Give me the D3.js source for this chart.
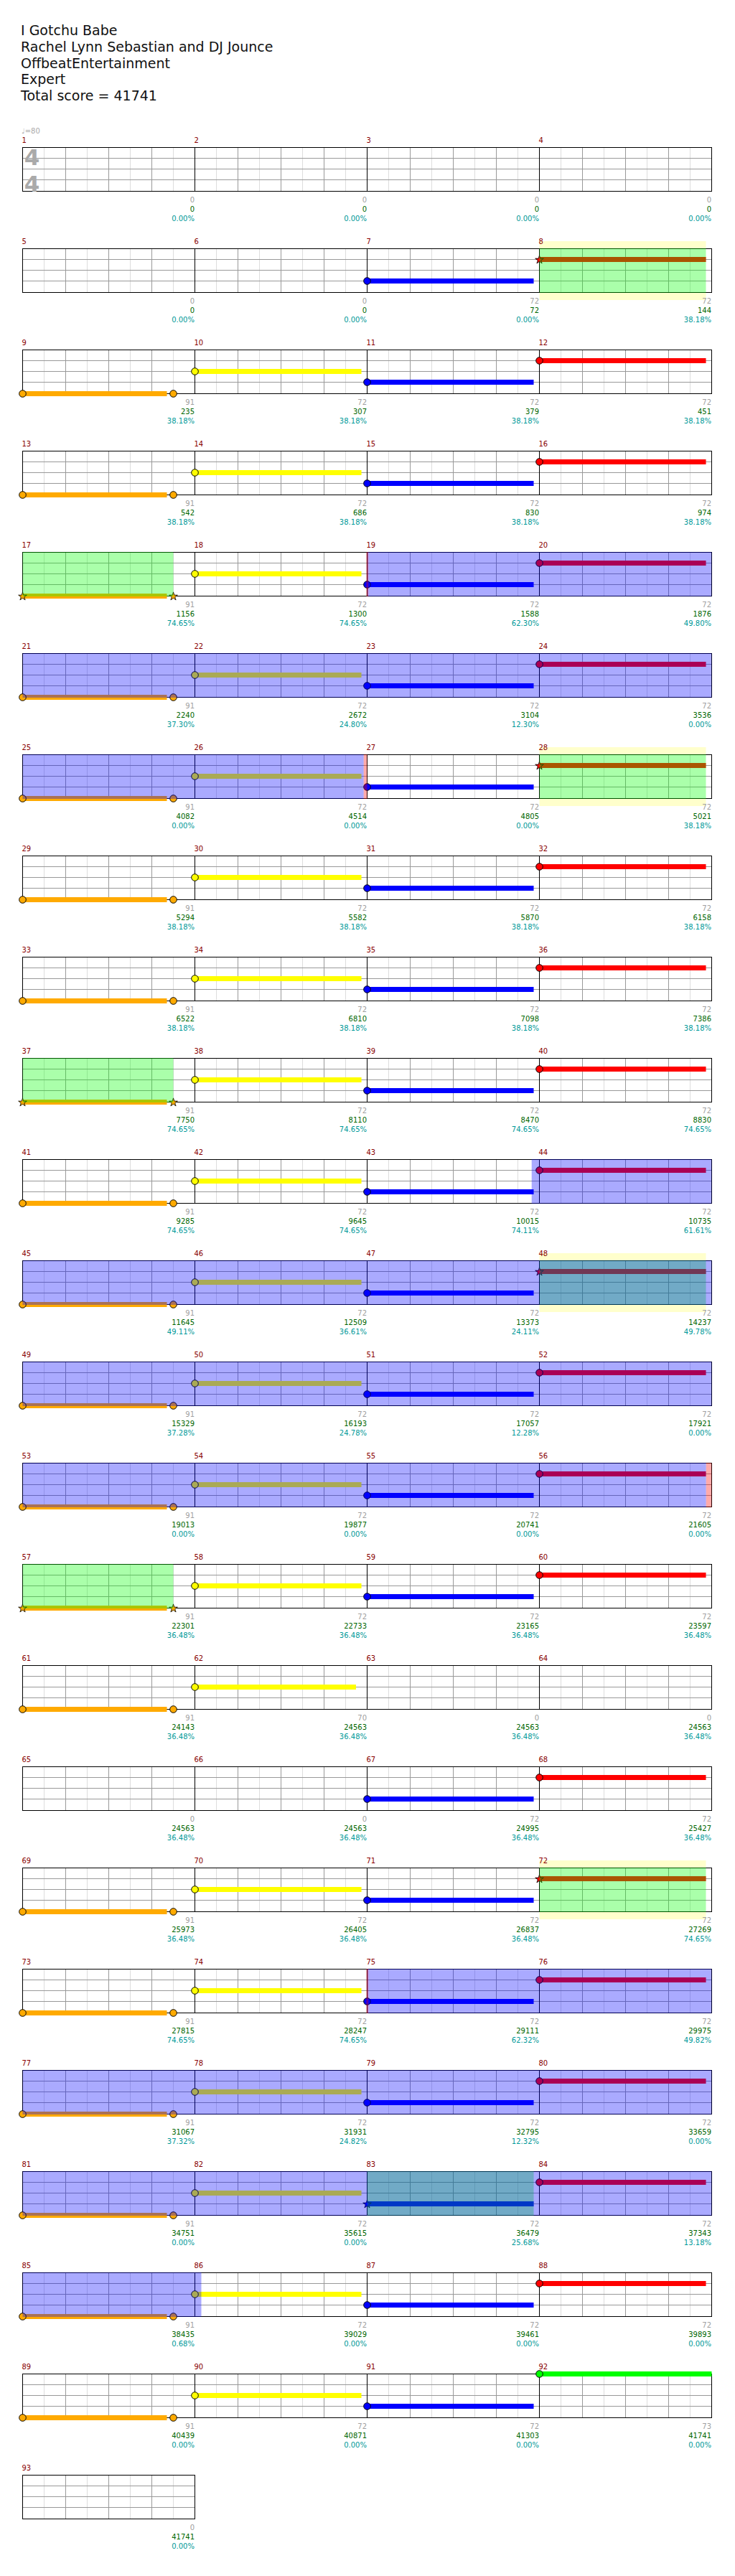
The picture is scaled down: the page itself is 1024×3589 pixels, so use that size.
<!DOCTYPE html>
<html><head><meta charset="utf-8">
<script src="https://cdn.jsdelivr.net/npm/d3@7"></script>
<style>
body{margin:0;background:#fff}
svg{display:block}
text{font-family:"DejaVu Sans",sans-serif}
</style>
</head><body><div id="chart"></div>
<script>
// ---------- data ----------
const headerLines = ["I Gotchu Babe", "Rachel Lynn Sebastian and DJ Jounce", "OffbeatEntertainment", "Expert", "Total score = 41741"];
const tempoLabel = "\u2669=80";
const timeSignature = ["4", "4"];
const beatsPerMeasure = 4;
const measuresPerRow = 4;

// gray number under each measure (base points of the measure)
const measureBase = [
  0,0,0,0, 0,0,72,72, 91,72,72,72, 91,72,72,72, 91,72,72,72, 91,72,72,72,
  91,72,72,72, 91,72,72,72, 91,72,72,72, 91,72,72,72, 91,72,72,72, 91,72,72,72,
  91,72,72,72, 91,72,72,72, 91,72,72,72, 91,70,0,0, 0,0,72,72, 91,72,72,72,
  91,72,72,72, 91,72,72,72, 91,72,72,72, 91,72,72,72, 91,72,72,73, 0
];
// green number: running score
const runningScore = [
  0,0,0,0, 0,0,72,144, 235,307,379,451, 542,686,830,974, 1156,1300,1588,1876,
  2240,2672,3104,3536, 4082,4514,4805,5021, 5294,5582,5870,6158, 6522,6810,7098,7386,
  7750,8110,8470,8830, 9285,9645,10015,10735, 11645,12509,13373,14237,
  15329,16193,17057,17921, 19013,19877,20741,21605, 22301,22733,23165,23597,
  24143,24563,24563,24563, 24563,24563,24995,25427, 25973,26405,26837,27269,
  27815,28247,29111,29975, 31067,31931,32795,33659, 34751,35615,36479,37343,
  38435,39029,39461,39893, 40439,40871,41303,41741, 41741
];
// teal number: star power meter (%)
const starMeter = [
  0,0,0,0, 0,0,0,38.18, 38.18,38.18,38.18,38.18, 38.18,38.18,38.18,38.18,
  74.65,74.65,62.30,49.80, 37.30,24.80,12.30,0, 0,0,0,38.18, 38.18,38.18,38.18,38.18,
  38.18,38.18,38.18,38.18, 74.65,74.65,74.65,74.65, 74.65,74.65,74.11,61.61,
  49.11,36.61,24.11,49.78, 37.28,24.78,12.28,0, 0,0,0,0, 36.48,36.48,36.48,36.48,
  36.48,36.48,36.48,36.48, 36.48,36.48,36.48,36.48, 36.48,36.48,36.48,74.65,
  74.65,74.65,62.32,49.82, 37.32,24.82,12.32,0, 0,0,25.68,13.18,
  0.68,0,0,0, 0,0,0,0, 0
];

const lanes = ["G","R","Y","B","O"];
const laneColors = ["#00ff00","#ff0000","#ffff00","#0000ff","#ffaa00"];

// notes: [measure, beat in measure, lane, sustain length in beats, star note]
const notes = [
  [7,0,"B",3.867,0],
  [8,0,"R",3.867,1],
  [9,0,"O",3.35,0],[9,3.5,"O",0,0],[10,0,"Y",3.867,0],[11,0,"B",3.867,0],[12,0,"R",3.867,0],
  [13,0,"O",3.35,0],[13,3.5,"O",0,0],[14,0,"Y",3.867,0],[15,0,"B",3.867,0],[16,0,"R",3.867,0],
  [17,0,"O",3.35,1],[17,3.5,"O",0,1],[18,0,"Y",3.867,0],[19,0,"B",3.867,0],[20,0,"R",3.867,0],
  [21,0,"O",3.35,0],[21,3.5,"O",0,0],[22,0,"Y",3.867,0],[23,0,"B",3.867,0],[24,0,"R",3.867,0],
  [25,0,"O",3.35,0],[25,3.5,"O",0,0],[26,0,"Y",3.867,0],[27,0,"B",3.867,0],[28,0,"R",3.867,1],
  [29,0,"O",3.35,0],[29,3.5,"O",0,0],[30,0,"Y",3.867,0],[31,0,"B",3.867,0],[32,0,"R",3.867,0],
  [33,0,"O",3.35,0],[33,3.5,"O",0,0],[34,0,"Y",3.867,0],[35,0,"B",3.867,0],[36,0,"R",3.867,0],
  [37,0,"O",3.35,1],[37,3.5,"O",0,1],[38,0,"Y",3.867,0],[39,0,"B",3.867,0],[40,0,"R",3.867,0],
  [41,0,"O",3.35,0],[41,3.5,"O",0,0],[42,0,"Y",3.867,0],[43,0,"B",3.867,0],[44,0,"R",3.867,0],
  [45,0,"O",3.35,0],[45,3.5,"O",0,0],[46,0,"Y",3.867,0],[47,0,"B",3.867,0],[48,0,"R",3.867,1],
  [49,0,"O",3.35,0],[49,3.5,"O",0,0],[50,0,"Y",3.867,0],[51,0,"B",3.867,0],[52,0,"R",3.867,0],
  [53,0,"O",3.35,0],[53,3.5,"O",0,0],[54,0,"Y",3.867,0],[55,0,"B",3.867,0],[56,0,"R",3.867,0],
  [57,0,"O",3.35,1],[57,3.5,"O",0,1],[58,0,"Y",3.867,0],[59,0,"B",3.867,0],[60,0,"R",3.867,0],
  [61,0,"O",3.35,0],[61,3.5,"O",0,0],[62,0,"Y",3.74,0],
  [67,0,"B",3.867,0],[68,0,"R",3.867,0],
  [69,0,"O",3.35,0],[69,3.5,"O",0,0],[70,0,"Y",3.867,0],[71,0,"B",3.867,0],[72,0,"R",3.867,1],
  [73,0,"O",3.35,0],[73,3.5,"O",0,0],[74,0,"Y",3.867,0],[75,0,"B",3.867,0],[76,0,"R",3.867,0],
  [77,0,"O",3.35,0],[77,3.5,"O",0,0],[78,0,"Y",3.867,0],[79,0,"B",3.867,0],[80,0,"R",3.867,0],
  [81,0,"O",3.35,0],[81,3.5,"O",0,0],[82,0,"Y",3.867,0],[83,0,"B",3.867,1],[84,0,"R",3.867,0],
  [85,0,"O",3.35,0],[85,3.5,"O",0,0],[86,0,"Y",3.867,0],[87,0,"B",3.867,0],[88,0,"R",3.867,0],
  [89,0,"O",3.35,0],[89,3.5,"O",0,0],[90,0,"Y",3.867,0],[91,0,"B",3.867,0],[92,0,"G",4,0]
];

// spans: [start measure, start beat, end measure, end beat]
const starPhrases = [[8,0,8,3.867],[17,0,17,3.5],[28,0,28,3.867],[37,0,37,3.5],
                     [48,0,48,3.867],[57,0,57,3.5],[72,0,72,3.867],[83,0,83,3.867]];
const phraseEndHighlights = [[8,0,8,3.867],[28,0,28,3.867],[48,0,48,3.867],[72,0,72,3.867]];
const activations = [[19,0,26,3.92],[43,3.82,56,3.87],[75,0,86,0.15]];
const activationEdges = [[19,-0.02,19,0.03],[26,3.92,26,4],[56,3.87,56,4],[75,-0.02,75,0.03]];

// ---------- drawing ----------
const W = 1024, H = 3589;
const svg = d3.select("#chart").append("svg").attr("width", W).attr("height", H);

const beatsPerRow = beatsPerMeasure * measuresPerRow;
const x = d3.scaleLinear().domain([0, beatsPerRow]).range([31.5, 991.5]);
const rowTop = d3.scaleLinear().domain([0, 1]).range([205.5, 346.5]);
const laneY = d3.scaleLinear().domain([0, 3, 4]).range([0, 45, 61]);
const staffH = laneY(4);
const measureCount = measureBase.length;
const rowCount = Math.ceil(measureCount / measuresPerRow);

const gbeat = (m, b) => (m - 1) * beatsPerMeasure + b;
function segments(g0, g1) {
  const out = [];
  let s = g0;
  while (s < g1 - 1e-9) {
    const r = Math.floor((s + 1e-6) / beatsPerRow);
    const e = Math.min(g1, (r + 1) * beatsPerRow);
    out.push({row: r, b0: s - r * beatsPerRow, b1: e - r * beatsPerRow});
    s = e;
  }
  return out;
}
function spanSegs(list) {
  return list.flatMap(d => segments(gbeat(d[0], d[1]), gbeat(d[2], d[3])));
}

// header
svg.append("g").selectAll("text").data(headerLines).join("text")
  .attr("x", 29).attr("y", (d, i) => 49 + i * 22.75)
  .attr("font-size", 19).attr("fill", "#111").text(d => d);

svg.append("text").attr("x", 30).attr("y", 186).attr("font-size", 10)
  .attr("fill", "#aaa").text(tempoLabel);

// yellow highlight behind phrase ends
svg.append("g").selectAll("rect").data(spanSegs(phraseEndHighlights)).join("rect")
  .attr("x", d => x(d.b0)).attr("width", d => x(d.b1) - x(d.b0))
  .attr("y", d => rowTop(d.row) - 10.5).attr("height", staffH + 21)
  .attr("fill", "#ffffcc");

const rows = d3.range(rowCount).map(r => ({
  r, top: rowTop(r),
  nm: Math.min(measuresPerRow, measureCount - r * measuresPerRow)
}));

const rowG = svg.append("g").selectAll("g").data(rows).join("g");

// staff background + grid
rowG.each(function(d) {
  const g = d3.select(this);
  const nb = d.nm * beatsPerMeasure;
  g.append("rect").attr("x", x(0)).attr("y", d.top).attr("width", x(nb) - x(0))
    .attr("height", staffH).attr("fill", "#fff");
  const halfBeats = d3.range(0.5, nb, 1);
  const beats = d3.range(1, nb).filter(b => b % beatsPerMeasure !== 0);
  const bars = d3.range(beatsPerMeasure, nb, beatsPerMeasure);
  g.selectAll(".hb").data(halfBeats).join("line")
    .attr("x1", b => x(b)).attr("x2", b => x(b))
    .attr("y1", d.top).attr("y2", d.top + staffH).attr("stroke", "#dddddd");
  g.selectAll(".lane").data([1, 2, 3]).join("line")
    .attr("x1", x(0)).attr("x2", x(nb))
    .attr("y1", l => d.top + laneY(l)).attr("y2", l => d.top + laneY(l)).attr("stroke", "#999999");
  g.selectAll(".bt").data(beats).join("line")
    .attr("x1", b => x(b)).attr("x2", b => x(b))
    .attr("y1", d.top).attr("y2", d.top + staffH).attr("stroke", "#999999");
  g.selectAll(".bar").data(bars).join("line")
    .attr("x1", b => x(b)).attr("x2", b => x(b))
    .attr("y1", d.top).attr("y2", d.top + staffH).attr("stroke", "#000");
  g.append("rect").attr("x", x(0)).attr("y", d.top).attr("width", x(nb) - x(0))
    .attr("height", staffH).attr("fill", "none").attr("stroke", "#000");
});

// time signature: two stacked digits, spaced so their boxes do not collide
svg.append("g").selectAll("text").data(timeSignature).join("text")
  .attr("x", 44.5).attr("y", (d, i) => rowTop(0) + 24.5 + i * 36.5)
  .attr("text-anchor", "middle").attr("font-size", 31).attr("font-weight", "bold")
  .attr("fill", "#aaaaaa").text(d => d);

// notes
const noteData = notes.map(n => {
  const g = gbeat(n[0], n[1]);
  const r = Math.floor((g + 1e-6) / beatsPerRow);
  const lane = lanes.indexOf(n[2]);
  return {row: r, b: g - r * beatsPerRow, lane, len: n[3], star: n[4], color: laneColors[lane]};
});
const notesG = svg.append("g");
notesG.selectAll("rect").data(noteData.filter(d => d.len > 0)).join("rect")
  .attr("x", d => x(d.b)).attr("width", d => x(d.b + d.len) - x(d.b))
  .attr("y", d => rowTop(d.row) + laneY(d.lane) - 3.5).attr("height", 7)
  .attr("fill", d => d.color);
notesG.selectAll("circle").data(noteData.filter(d => !d.star)).join("circle")
  .attr("cx", d => x(d.b)).attr("cy", d => rowTop(d.row) + laneY(d.lane))
  .attr("r", 4.8).attr("fill", d => d.color).attr("stroke", "#000").attr("stroke-width", 1);
notesG.selectAll("path").data(noteData.filter(d => d.star)).join("path")
  .attr("transform", d => `translate(${x(d.b)},${rowTop(d.row) + laneY(d.lane) + 0.5})`)
  .attr("d", d3.symbol(d3.symbolStar).size(42)).attr("fill", d => d.color)
  .attr("stroke", "#000").attr("stroke-width", 0.8);

// overlays
function overlay(list, color) {
  svg.append("g").selectAll("rect").data(spanSegs(list)).join("rect")
    .attr("x", d => x(d.b0)).attr("width", d => x(d.b1) - x(d.b0))
    .attr("y", d => rowTop(d.row) - 0.5).attr("height", staffH + 1)
    .attr("fill", color).attr("fill-opacity", 1 / 3);
}
overlay(starPhrases, "#00ff00");
overlay(activations, "#0000ff");
overlay(activationEdges, "#ff0000");

// labels
const mData = d3.range(measureCount).map(i => {
  const r = Math.floor(i / measuresPerRow), c = i % measuresPerRow;
  return {i, r, b0: c * beatsPerMeasure, b1: (c + 1) * beatsPerMeasure, top: rowTop(r)};
});
const lab = svg.append("g").attr("font-size", 10);
lab.selectAll(".mn").data(mData).join("text")
  .attr("x", d => x(d.b0) - 1).attr("y", d => d.top - 7)
  .attr("fill", "#880000").text(d => d.i + 1);
lab.selectAll(".base").data(mData).join("text")
  .attr("x", d => x(d.b1) - 0.5).attr("y", d => d.top + 76.5).attr("text-anchor", "end")
  .attr("fill", "#a0a0a0").text(d => measureBase[d.i]);
lab.selectAll(".score").data(mData).join("text")
  .attr("x", d => x(d.b1) - 0.5).attr("y", d => d.top + 89.5).attr("text-anchor", "end")
  .attr("fill", "#006600").text(d => runningScore[d.i]);
lab.selectAll(".sp").data(mData).join("text")
  .attr("x", d => x(d.b1) - 0.5).attr("y", d => d.top + 102.5).attr("text-anchor", "end")
  .attr("fill", "#009999").text(d => starMeter[d.i].toFixed(2) + "%");
</script>
</body></html>
